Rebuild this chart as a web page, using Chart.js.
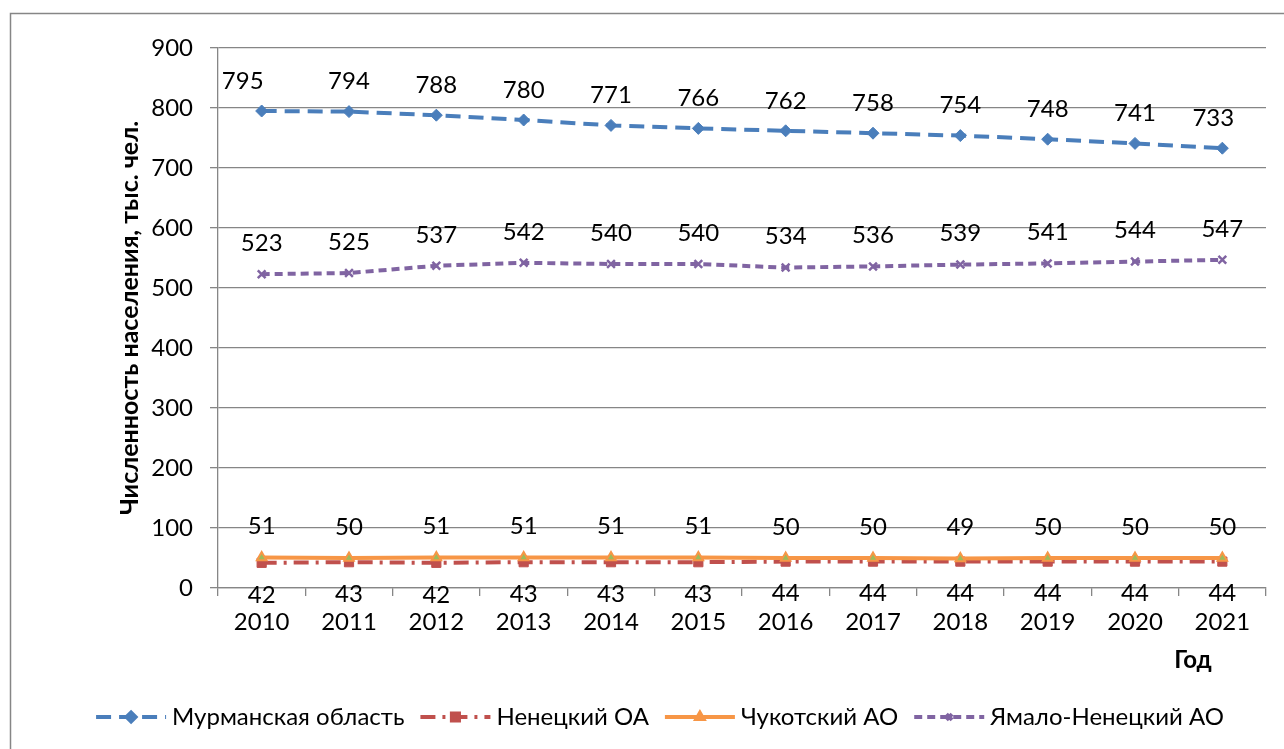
<!DOCTYPE html>
<html><head><meta charset="utf-8">
<script src="https://cdn.jsdelivr.net/npm/chart.js@4"></script>
<style>html,body{margin:0;padding:0;background:#fff}canvas{display:block}</style>
</head><body>
<canvas id="c" width="1284" height="749"></canvas>
<script>
const years = ['2010','2011','2012','2013','2014','2015','2016','2017','2018','2019','2020','2021'];
const murmansk = [795,794,788,780,771,766,762,758,754,748,741,733];
const nenets   = [42,43,42,43,43,43,44,44,44,44,44,44];
const chukotka = [51,50,51,51,51,51,50,50,49,50,50,50];
const yamal    = [523,525,537,542,540,540,534,536,539,541,544,547];
const seriesNames = ['Мурманская область','Ненецкий ОА','Чукотский АО','Ямало-Ненецкий АО'];
const yMin = 0, yMax = 900, yStep = 100;
const yTitle = 'Численность населения, тыс. чел.';
const xTitle = 'Год';

const FONT = 'Lato, "Open Sans", sans-serif';
const GRID = '#868686';

const labelPlugin = {
  id: 'valueLabels',
  afterDatasetsDraw(chart, args, opts) {
    const ctx = chart.ctx;
    ctx.save();
    ctx.font = '24px ' + FONT;
    ctx.fillStyle = '#000';
    ctx.textAlign = 'center';
    ctx.textBaseline = 'middle';
    chart.data.datasets.forEach((ds, i) => {
      const meta = chart.getDatasetMeta(i);
      const sh = (opts.shift && opts.shift[i]) || {};
      meta.data.forEach((pt, j) => {
        ctx.fillText(String(ds.data[j]), pt.x + (sh[j] || 0), pt.y + ds.labelOffset);
      });
    });
    ctx.restore();
  }
};

const decorPlugin = {
  id: 'decor',
  beforeDraw(chart) {
    const ctx = chart.ctx;
    ctx.save();
    ctx.strokeStyle = GRID;
    ctx.lineWidth = 1.5;
    ctx.beginPath();
    ctx.moveTo(10.5, 749);
    ctx.lineTo(10.5, 13.5);
    ctx.lineTo(1284, 13.5);
    ctx.stroke();
    ctx.restore();
  },
  afterDraw(chart) {
    const ctx = chart.ctx;
    const area = chart.chartArea;
    ctx.save();
    ctx.font = 'bold 24px ' + FONT;
    ctx.fillStyle = '#000';
    ctx.textAlign = 'center';
    ctx.textBaseline = 'middle';
    ctx.fillText(xTitle, area.right - 73, 660);
    ctx.font = '24px ' + FONT;
    const sampleW = 70, gap = 6, itemGap = 16;
    const items = chart.data.datasets.map(ds => ({ds, w: ctx.measureText(ds.label).width}));
    const total = items.reduce((s, it) => s + sampleW + gap + it.w, 0) + itemGap * (items.length - 1);
    let x = 660 - total / 2;
    const y = 717;
    items.forEach(it => {
      const ds = it.ds;
      ctx.save();
      ctx.strokeStyle = ds.borderColor;
      ctx.lineWidth = ds.borderWidth;
      ctx.setLineDash(ds.borderDash || []);
      ctx.beginPath();
      ctx.moveTo(x, y);
      ctx.lineTo(x + sampleW, y);
      ctx.stroke();
      ctx.setLineDash([]);
      ctx.fillStyle = ds.pointBackgroundColor;
      ctx.strokeStyle = ds.pointBorderColor;
      Chart.helpers.drawPoint(ctx, {pointStyle: ds.pointStyle, radius: ds.pointRadius - 1.5, borderWidth: ds.pointBorderWidth, rotation: 0}, x + sampleW / 2, y);
      ctx.restore();
      ctx.fillStyle = '#000';
      ctx.textAlign = 'left';
      ctx.textBaseline = 'middle';
      ctx.fillText(ds.label, x + sampleW + gap, y);
      x += sampleW + gap + it.w + itemGap;
    });
    ctx.restore();
  }
};

new Chart(document.getElementById('c'), {
  type: 'line',
  data: {
    labels: years,
    datasets: [
      {label: seriesNames[0], data: murmansk, order: 4, borderColor: '#4A7EBB', backgroundColor: '#4A7EBB',
       borderWidth: 4, borderDash: [15, 8], pointStyle: 'rectRot', pointRadius: 6, pointBorderWidth: 1,
       pointBackgroundColor: '#4A7EBB', pointBorderColor: '#4A7EBB', labelOffset: -30},
      {label: seriesNames[1], data: nenets, order: 3, borderColor: '#C0504D', backgroundColor: '#C0504D',
       borderWidth: 4, borderDash: [15, 7, 3, 7], pointStyle: 'rect', pointRadius: 6.5, pointBorderWidth: 1,
       pointBackgroundColor: '#C0504D', pointBorderColor: '#C0504D', labelOffset: 32},
      {label: seriesNames[2], data: chukotka, order: 2, borderColor: '#F79646', backgroundColor: '#F79646',
       borderWidth: 4, borderDash: [], pointStyle: 'triangle', pointRadius: 5.5, pointBorderWidth: 2,
       pointBackgroundColor: '#9BBB59', pointBorderColor: '#F79646', labelOffset: -31},
      {label: seriesNames[3], data: yamal, order: 1, borderColor: '#8064A2', backgroundColor: '#8064A2',
       borderWidth: 4, borderDash: [8, 5], pointStyle: 'crossRot', pointRadius: 5.5, pointBorderWidth: 2.5,
       pointBackgroundColor: '#8064A2', pointBorderColor: '#8064A2', labelOffset: -31}
    ]
  },
  options: {
    responsive: false,
    animation: false,
    devicePixelRatio: 1,
    layout: {padding: {left: 115, top: 48, right: 18, bottom: 71}},
    plugins: {
      legend: {display: false},
      tooltip: {enabled: false},
      valueLabels: {shift: {0: {0: -19, 11: -9}}}
    },
    scales: {
      x: {
        offset: true,
        grid: {offset: true, drawOnChartArea: false, color: GRID, lineWidth: 1.3, tickLength: 8},
        border: {color: GRID, width: 1.3},
        ticks: {font: {family: FONT, size: 24}, color: '#000', padding: 12, maxRotation: 0, autoSkip: false},
        afterFit(s) { s.height = 90; }
      },
      y: {
        min: yMin, max: yMax,
        grid: {color: GRID, lineWidth: 1.3, tickLength: 8},
        border: {color: GRID, width: 1.3},
        ticks: {stepSize: yStep, font: {family: FONT, size: 24}, color: '#000', padding: 17},
        title: {display: true, text: yTitle, color: '#000', font: {family: FONT, size: 25, weight: 'bold'}, padding: {top: 0, bottom: 0}},
        afterFit(s) { s.width = 103; }
      }
    }
  },
  plugins: [labelPlugin, decorPlugin]
});
</script>
</body></html>
